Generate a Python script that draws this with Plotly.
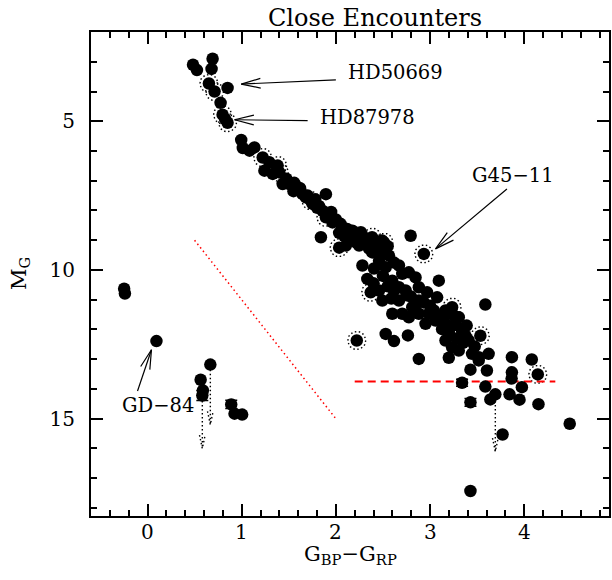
import math
import plotly.graph_objects as go

# ---------------- data ----------------
bp_rp = [0.483, 0.525, 0.691, 0.680, 0.652, 0.712, 0.850, 0.776, 0.797, 0.823, 0.850,
         0.995, 1.012, 1.135, 1.083,
         1.223, 1.294, 1.382, 1.400, 1.241, 1.329,
         1.435, 1.506, 1.474, 1.558, 1.594, 1.647, 1.682, 1.735, 1.752, 1.894, 1.802,
         1.858, 1.929, 1.894, 1.964, 2.070, 2.176, 2.265, 2.384, 2.490, 1.841, 2.794,
         2.282, 2.088, 2.035, 2.141, 2.106, 2.035, 2.212, 2.317, 2.423, 2.511, 2.247,
         2.934, 2.387, 2.352, 2.511, 2.564, 2.458, 2.617, 2.529, 2.282, 2.405, 2.670,
         2.334, 2.370, 2.458, 2.493, 2.599, 2.705, 2.775, 2.846, 2.670, 2.741, 2.881, 2.969, 3.093, 3.075,
         2.617, 2.796, 2.934, 2.589, 2.881, 2.670, 2.811,
         2.599, 2.705, 2.775, 2.881, 2.987, 2.952, 3.058, 3.040, 3.164, 3.234, 3.305, 3.270, 3.146, 3.252, 3.389,
         3.128, 3.234, 3.340, 3.376, 3.534, 3.587, 3.283, 3.410, 3.474,
         3.164, 3.234, 3.305, 3.446, 3.622, 3.517, 3.517,
         2.529, 2.617, 2.765, 2.222, 2.881, 3.199, 3.429, 3.604, 3.869, 3.869, 3.866, 4.080, 4.144,
         3.587, 3.693, 3.640, 3.844, 3.975, 3.950, 4.151, 3.770, 4.483, 3.429,
         -0.248, -0.240, 0.095, 0.667, 0.564, 0.588, 0.924, 1.005,
         1.55, 1.62, 1.70, 1.78, 1.82, 1.95, 2.00, 2.05, 2.12, 2.20, 2.30, 2.40, 2.45, 2.55,
         2.55, 2.75, 2.85, 3.00, 3.10, 3.20, 3.35, 2.40, 2.50]
m_g = [3.10, 3.28, 2.90, 3.24, 3.73, 4.00, 3.88, 4.38, 4.78, 4.92, 5.05,
       5.63, 5.90, 5.88, 5.99,
       6.22, 6.38, 6.49, 6.72, 6.66, 6.77,
       7.11, 7.11, 6.93, 7.07, 7.22, 7.45, 7.56, 7.67, 7.78, 7.45, 7.91,
       8.01, 8.17, 8.23, 8.40, 8.57, 8.68, 8.73, 8.90, 9.01, 8.90, 8.85,
       8.85, 8.85, 8.75, 8.95, 9.18, 9.25, 9.07, 9.07, 9.07, 9.07, 9.18,
       9.46, 9.41, 9.28, 9.35, 9.52, 9.69, 9.75, 9.91, 9.85, 9.95, 9.85,
       10.30, 10.75, 10.69, 11.03, 10.36, 10.13, 10.08, 10.25, 10.58, 10.69, 10.58, 10.75, 10.36, 10.92,
       10.69, 10.89, 11.09, 10.96, 11.03, 11.03, 11.25,
       11.47, 11.47, 11.59, 11.47, 11.47, 11.81, 11.70, 11.36, 11.36, 11.25, 11.59, 11.81, 11.70, 11.53, 11.87,
       11.99, 11.88, 12.05, 12.21, 12.21, 11.16, 12.30, 12.37, 12.57,
       12.37, 12.60, 12.71, 12.82, 12.82, 13.04, 12.93,
       12.15, 12.39, 12.20, 12.37, 12.99, 12.95, 13.35, 13.38, 12.93, 13.44, 13.65, 13.01, 13.51,
       13.92, 14.18, 14.35, 14.18, 13.94, 14.36, 14.51, 15.53, 15.17, 17.43,
       10.63, 10.79, 12.39, 13.18, 13.69, 14.05, 14.83, 14.86,
       7.35, 7.25, 7.50, 7.62, 7.85, 8.05, 8.30, 8.45, 8.62, 8.82, 8.95, 9.15, 9.30, 9.20,
       10.55, 10.85, 11.15, 11.20, 11.55, 12.10, 12.45, 10.45, 10.20]

# stars with error bars
err_bp_rp = [0.582, 0.889, 3.340, 3.429]
err_m_g = [14.22, 14.52, 13.79, 14.45]
err_size = [0.17, 0.14, 0.12, 0.13]

# stars flagged with dotted rings
ring_bp_rp = [0.652, 0.712, 0.797, 0.850, 1.223, 1.382, 1.400, 1.735, 1.894, 2.384,
              2.035, 2.511, 2.934, 2.370, 3.234, 3.534, 2.222, 4.144]
ring_m_g = [3.73, 4.00, 4.78, 5.05, 6.22, 6.49, 6.72, 7.67, 8.23, 8.90,
            9.25, 9.07, 9.46, 10.75, 11.25, 12.21, 12.37, 13.51]

# dotted downward tails (x, top, bottom)
tail_bp_rp = [0.582, 0.667, 3.693]
tail_top = [14.40, 13.35, 14.40]
tail_bottom = [16.00, 15.20, 16.10]

# reference lines
red_dot_x = [0.5, 2.0]
red_dot_y = [9.0, 15.0]
red_dash_x = [2.2, 4.33]
red_dash_y = [13.75, 13.75]

# labelled stars
label_text = ["HD50669", "HD87978", "G45\u221211", "GD\u221284"]
label_x = [2.11, 1.805, 3.42, -0.293]
label_y = [3.36, 4.88, 6.84, 14.55]
arrow_tail_x = [2.00, 1.70, 3.816, -0.106]
arrow_tail_y = [3.61, 4.98, 7.28, 14.07]
arrow_tip_x = [0.995, 0.924, 3.058, 0.042]
arrow_tip_y = [3.75, 4.95, 9.29, 12.68]

# x tick labels
x_tick_values = [0, 1, 2, 3, 4]

# ---------------- layout geometry ----------------
W, H = 612, 580
ML, MR, MT, MB = 91, 1, 32, 64
X_RANGE = [-0.6, 4.9]
Y_RANGE = [18.27, 2.0]
SX = (W - ML - MR) / (X_RANGE[1] - X_RANGE[0])
SY = (H - MT - MB) / (Y_RANGE[0] - Y_RANGE[1])


def to_px(x, y):
    return (x - X_RANGE[0]) * SX, (y - Y_RANGE[1]) * SY


def to_data(px, py):
    return px / SX + X_RANGE[0], py / SY + Y_RANGE[1]


FONT = "DejaVu Serif"
fig = go.Figure()

# rings (drawn under the markers)
rx, ry = [], []
R = 9.0
for cx, cy in zip(ring_bp_rp, ring_m_g):
    pcx, pcy = to_px(cx, cy)
    for k in range(41):
        t = 2 * math.pi * k / 40
        dx, dy = to_data(pcx + R * math.cos(t), pcy + R * math.sin(t))
        rx.append(dx)
        ry.append(dy)
    rx.append(None)
    ry.append(None)
fig.add_trace(go.Scatter(x=rx, y=ry, mode="lines",
                         line=dict(color="black", width=1.4, dash="1.5px,2.5px"),
                         hoverinfo="skip", showlegend=False))

# dotted tails with small arrow-like tips
tx, ty = [], []
for x0, y0, y1 in zip(tail_bp_rp, tail_top, tail_bottom):
    tx += [x0, x0, None, x0 - 0.03, x0, x0 + 0.03, None]
    ty += [y0, y1, None, y1 - 0.45, y1, y1 - 0.45, None]
fig.add_trace(go.Scatter(x=tx, y=ty, mode="lines",
                         line=dict(color="black", width=1.4, dash="1.5px,2.5px"),
                         hoverinfo="skip", showlegend=False))

# red reference lines
fig.add_trace(go.Scatter(x=red_dot_x, y=red_dot_y, mode="lines",
                         line=dict(color="red", width=1.5, dash="1.5px,3px"),
                         showlegend=False))
fig.add_trace(go.Scatter(x=red_dash_x, y=red_dash_y, mode="lines",
                         line=dict(color="red", width=2, dash="8px,5px"),
                         showlegend=False))

# stars
fig.add_trace(go.Scatter(x=bp_rp, y=m_g, mode="markers",
                         marker=dict(color="black", size=12.5, line=dict(width=0)),
                         showlegend=False))
fig.add_trace(go.Scatter(x=err_bp_rp, y=err_m_g, mode="markers",
                         marker=dict(color="black", size=12.5, line=dict(width=0)),
                         error_y=dict(type="data", array=err_size, color="black",
                                      thickness=1.5, width=6),
                         showlegend=False))

# arrows with open V heads
ax_, ay_ = [], []
L, ANG = 20.0, math.radians(14)
for x0, y0, x1, y1 in zip(arrow_tail_x, arrow_tail_y, arrow_tip_x, arrow_tip_y):
    p0 = to_px(x0, y0)
    p1 = to_px(x1, y1)
    vx, vy = p0[0] - p1[0], p0[1] - p1[1]
    n = math.hypot(vx, vy)
    vx, vy = vx / n, vy / n
    arms = []
    for s in (1, -1):
        c, si = math.cos(s * ANG), math.sin(s * ANG)
        arms.append(to_data(p1[0] + L * (vx * c - vy * si), p1[1] + L * (vx * si + vy * c)))
    ax_ += [x0, x1, None, arms[0][0], x1, arms[1][0], None]
    ay_ += [y0, y1, None, arms[0][1], y1, arms[1][1], None]
fig.add_trace(go.Scatter(x=ax_, y=ay_, mode="lines",
                         line=dict(color="black", width=1.2),
                         hoverinfo="skip", showlegend=False))

for t, x, y in zip(label_text, label_x, label_y):
    fig.add_annotation(x=x, y=y, text=t, showarrow=False, xanchor="left", yanchor="middle",
                       font=dict(family=FONT, size=19.5, color="black"))

# x tick labels placed close under the axis
for v in x_tick_values:
    fig.add_annotation(x=v, xref="x", yref="paper", y=-0.034, text=str(v), showarrow=False,
                       xanchor="center", yanchor="middle",
                       font=dict(family=FONT, size=20, color="black"))

# axis titles
fig.add_annotation(xref="paper", yref="paper", x=0.5, y=-0.081,
                   text="G<sub>BP</sub>\u2212G<sub>RP</sub>", showarrow=False,
                   xanchor="center", yanchor="middle",
                   font=dict(family=FONT, size=21, color="black"))
fig.add_annotation(xref="paper", yref="paper", x=-0.137, y=0.50,
                   text="M<sub>G</sub>", showarrow=False, textangle=-90,
                   xanchor="center", yanchor="middle",
                   font=dict(family=FONT, size=21, color="black"))

axis_common = dict(showline=True, linecolor="black", linewidth=2, mirror="allticks",
                   ticks="inside", tickcolor="black", tickwidth=1.5,
                   showgrid=False, zeroline=False,
                   tickfont=dict(family=FONT, size=20, color="black"))

fig.update_layout(
    width=W, height=H,
    margin=dict(l=ML, r=MR, t=MT, b=MB),
    paper_bgcolor="white", plot_bgcolor="white",
    title=dict(text="Close Encounters", x=375 / W, y=1 - 18 / H, xref="container",
               yref="container", xanchor="center", yanchor="middle",
               font=dict(family=FONT, size=24, color="black")),
    xaxis=dict(range=X_RANGE, tick0=0, dtick=1, ticklen=12, showticklabels=False,
               minor=dict(dtick=0.2, ticklen=6, ticks="inside", tickcolor="black", tickwidth=1.5),
               **axis_common),
    yaxis=dict(range=Y_RANGE, tick0=0, dtick=5, ticklen=12,
               minor=dict(dtick=1, ticklen=6, ticks="inside", tickcolor="black", tickwidth=1.5),
               ticklabelstandoff=10, **axis_common),
)

fig.write_html("out.html")
